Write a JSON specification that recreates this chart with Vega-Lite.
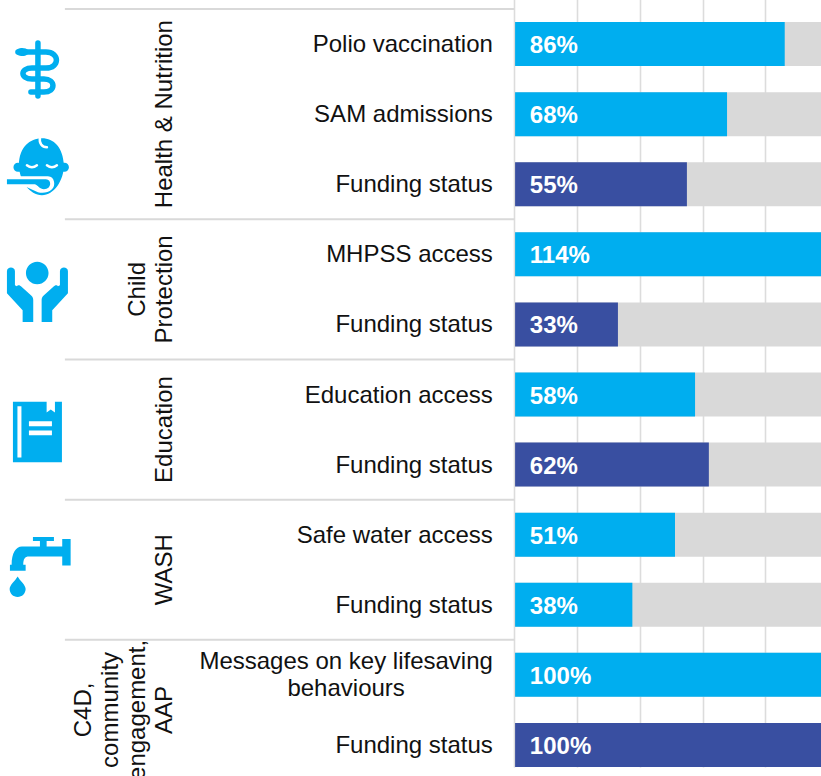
{
"$schema":"https://vega.github.io/schema/vega-lite/v6.json",
"width":821,"height":776,"padding":0,"autosize":{"type":"none"},"background":"white",
"config":{"view":{"stroke":null},"font":"Liberation Sans","axisX":{"grid":true,"gridColor":"#dcdcdc","gridWidth":1.6,"ticks":false,"labels":false,"domain":false,"title":null},"axisY":{"disable":true}},
"datasets":{
"rows":[
{"row":"r0","label":"Polio vaccination","value":86.2,"pct":"86%","series":"indicator","full":100},
{"row":"r1","label":"SAM admissions","value":67.8,"pct":"68%","series":"indicator","full":100},
{"row":"r2","label":"Funding status","value":55,"pct":"55%","series":"funding","full":100},
{"row":"r3","label":"MHPSS access","value":114,"pct":"114%","series":"indicator","full":100},
{"row":"r4","label":"Funding status","value":33,"pct":"33%","series":"funding","full":100},
{"row":"r5","label":"Education access","value":57.6,"pct":"58%","series":"indicator","full":100},
{"row":"r6","label":"Funding status","value":62,"pct":"62%","series":"funding","full":100},
{"row":"r7","label":"Safe water access","value":51.2,"pct":"51%","series":"indicator","full":100},
{"row":"r8","label":"Funding status","value":37.6,"pct":"38%","series":"indicator","full":100},
{"row":"r9","label":"Messages on key lifesaving behaviours","value":100,"pct":"100%","series":"indicator","full":100},
{"row":"r10","label":"Funding status","value":100,"pct":"100%","series":"funding","full":100}
],
"starts":[{"row":"r0"},{"row":"r3"},{"row":"r5"},{"row":"r7"},{"row":"r9"}]
},
"layer":[
{"data":{"name":"rows"},"mark":{"type":"bar","size":44,"color":"#d9d9d9","clip":true},
"encoding":{
"x":{"field":"full","type":"quantitative","axis":{"values":[0,20,40,60,80]},"scale":{"domain":[-164.1,97.77],"nice":false,"zero":false}},
"x2":{"datum":0.2},
"y":{"field":"row","type":"nominal","scale":{"domain":["r0","r1","r2","r3","r4","r5","r6","r7","r8","r9","r10"],"range":[9,780],"paddingInner":0,"paddingOuter":0}}}},
{"data":{"name":"rows"},"mark":{"type":"bar","size":44,"clip":true},
"encoding":{
"x":{"field":"value","type":"quantitative","axis":{"values":[0,20,40,60,80]},"scale":{"domain":[-164.1,97.77],"nice":false,"zero":false}},
"x2":{"datum":0.2},
"y":{"field":"row","type":"nominal","scale":{"domain":["r0","r1","r2","r3","r4","r5","r6","r7","r8","r9","r10"],"range":[9,780],"paddingInner":0,"paddingOuter":0}},
"color":{"field":"series","type":"nominal","legend":null,"scale":{"domain":["indicator","funding"],"range":["#00AEEF","#394FA1"]}}}},
{"data":{"name":"rows"},"mark":{"type":"text","align":"left","baseline":"middle","fontWeight":"bold","fontSize":24,"color":"white","dy":2},
"encoding":{
"x":{"datum":4.9,"type":"quantitative","axis":{"values":[0,20,40,60,80]},"scale":{"domain":[-164.1,97.77],"nice":false,"zero":false}},
"y":{"field":"row","type":"nominal","scale":{"domain":["r0","r1","r2","r3","r4","r5","r6","r7","r8","r9","r10"],"range":[9,780],"paddingInner":0,"paddingOuter":0}},
"text":{"field":"pct"}}},
{"data":{"name":"rows"},"transform":[{"filter":"datum.row !== 'r9'"}],"mark":{"type":"text","align":"right","baseline":"middle","fontSize":24,"color":"#111111","dy":1},
"encoding":{
"x":{"datum":-6.9,"type":"quantitative","axis":{"values":[0,20,40,60,80]},"scale":{"domain":[-164.1,97.77],"nice":false,"zero":false}},
"y":{"field":"row","type":"nominal","scale":{"domain":["r0","r1","r2","r3","r4","r5","r6","r7","r8","r9","r10"],"range":[9,780],"paddingInner":0,"paddingOuter":0}},
"text":{"field":"label"}}},
{"data":{"values":[{"row":"r9","label":["Messages on key lifesaving","behaviours"]}]},"mark":{"type":"text","align":"center","baseline":"middle","fontSize":24,"lineHeight":27,"color":"#111111"},
"encoding":{
"x":{"datum":-53.7,"type":"quantitative","axis":{"values":[0,20,40,60,80]},"scale":{"domain":[-164.1,97.77],"nice":false,"zero":false}},
"y":{"field":"row","type":"nominal","bandPosition":0.31,"scale":{"domain":["r0","r1","r2","r3","r4","r5","r6","r7","r8","r9","r10"],"range":[9,780],"paddingInner":0,"paddingOuter":0}},
"text":{"field":"label"}}},
{"data":{"name":"starts"},"mark":{"type":"rule","color":"#d9d9d9","strokeWidth":2},
"encoding":{
"x":{"datum":-143.4,"type":"quantitative","axis":{"values":[0,20,40,60,80]},"scale":{"domain":[-164.1,97.77],"nice":false,"zero":false}},
"x2":{"datum":0},
"y":{"field":"row","type":"nominal","bandPosition":0,"scale":{"domain":["r0","r1","r2","r3","r4","r5","r6","r7","r8","r9","r10"],"range":[9,780],"paddingInner":0,"paddingOuter":0}}}},
{"data":{"values":[{"row":"r1","group":"Health & Nutrition"}]},"mark":{"type":"text","angle":270,"align":"center","baseline":"bottom","fontSize":24,"lineHeight":27,"color":"#111111"},
"encoding":{
"x":{"datum":-107.7,"type":"quantitative","axis":{"values":[0,20,40,60,80]},"scale":{"domain":[-164.1,97.77],"nice":false,"zero":false}},
"y":{"field":"row","type":"nominal","scale":{"domain":["r0","r1","r2","r3","r4","r5","r6","r7","r8","r9","r10"],"range":[9,780],"paddingInner":0,"paddingOuter":0}},
"text":{"field":"group"}}},
{"data":{"values":[{"row":"r5","group":"Education"},{"row":"r7","group":"WASH"}]},"mark":{"type":"text","angle":270,"align":"center","baseline":"bottom","fontSize":24,"lineHeight":27,"color":"#111111"},
"encoding":{
"x":{"datum":-107.7,"type":"quantitative","axis":{"values":[0,20,40,60,80]},"scale":{"domain":[-164.1,97.77],"nice":false,"zero":false}},
"y":{"field":"row","type":"nominal","bandPosition":1,"scale":{"domain":["r0","r1","r2","r3","r4","r5","r6","r7","r8","r9","r10"],"range":[9,780],"paddingInner":0,"paddingOuter":0}},
"text":{"field":"group"}}},
{"data":{"values":[{"row":"r3","group":["Child","Protection"]}]},"mark":{"type":"text","angle":270,"align":"center","baseline":"bottom","fontSize":24,"lineHeight":27,"color":"#111111"},
"encoding":{
"x":{"datum":-116.3,"type":"quantitative","axis":{"values":[0,20,40,60,80]},"scale":{"domain":[-164.1,97.77],"nice":false,"zero":false}},
"y":{"field":"row","type":"nominal","bandPosition":1,"scale":{"domain":["r0","r1","r2","r3","r4","r5","r6","r7","r8","r9","r10"],"range":[9,780],"paddingInner":0,"paddingOuter":0}},
"text":{"field":"group"}}},
{"data":{"values":[{"row":"r9","group":["C4D,","community","engagement,","AAP"]}]},"mark":{"type":"text","angle":270,"align":"center","baseline":"bottom","fontSize":24,"lineHeight":27,"color":"#111111"},
"encoding":{
"x":{"datum":-133.5,"type":"quantitative","axis":{"values":[0,20,40,60,80]},"scale":{"domain":[-164.1,97.77],"nice":false,"zero":false}},
"y":{"field":"row","type":"nominal","bandPosition":1,"scale":{"domain":["r0","r1","r2","r3","r4","r5","r6","r7","r8","r9","r10"],"range":[9,780],"paddingInner":0,"paddingOuter":0}},
"text":{"field":"group"}}},
{"data":{"values":[{"row":"r0"}]},"mark":{"type":"point","filled":false,"size":4,"opacity":1,"stroke":"#00AEEF","strokeWidth":5.5,"strokeCap":"round","strokeJoin":"round","shape":"M0,-1 L0,52 M-20,8 L8,8 C22,8 22,24 8,24 L-6,24 C-18,24 -18,35 -6,35 L6,35 C18,35 18,48 6,48 L-7,48"},
"encoding":{
"x":{"datum":-152,"type":"quantitative","axis":{"values":[0,20,40,60,80]},"scale":{"domain":[-164.1,97.77],"nice":false,"zero":false}},
"y":{"field":"row","type":"nominal","scale":{"domain":["r0","r1","r2","r3","r4","r5","r6","r7","r8","r9","r10"],"range":[9,780],"paddingInner":0,"paddingOuter":0}}}},
{"data":{"values":[{"row":"r0"}]},"mark":{"type":"point","filled":true,"size":4,"opacity":1,"color":"#00AEEF","shape":"M-22,8 C-22,3 -12,3 -10,6 L-10,10 C-12,13 -22,13 -22,8 Z"},
"encoding":{
"x":{"datum":-152,"type":"quantitative","axis":{"values":[0,20,40,60,80]},"scale":{"domain":[-164.1,97.77],"nice":false,"zero":false}},
"y":{"field":"row","type":"nominal","scale":{"domain":["r0","r1","r2","r3","r4","r5","r6","r7","r8","r9","r10"],"range":[9,780],"paddingInner":0,"paddingOuter":0}}}},
{"data":{"values":[{"row":"r2"}]},"mark":{"type":"point","filled":true,"size":4,"opacity":1,"color":"#00AEEF","shape":"M-19,-19 C-19,-37 -8,-46 4,-46 C16,-46 25,-37 26,-19 C26,-4 16,11 4,11 C-8,11 -19,-4 -19,-19 Z M-24.5,-17 A4.5,4.5 0 1 1 -15.5,-17 A4.5,4.5 0 1 1 -24.5,-17 Z M22,-17 A4.5,4.5 0 1 1 31,-17 A4.5,4.5 0 1 1 22,-17 Z"},
"encoding":{
"x":{"datum":-152,"type":"quantitative","axis":{"values":[0,20,40,60,80]},"scale":{"domain":[-164.1,97.77],"nice":false,"zero":false}},
"y":{"field":"row","type":"nominal","scale":{"domain":["r0","r1","r2","r3","r4","r5","r6","r7","r8","r9","r10"],"range":[9,780],"paddingInner":0,"paddingOuter":0}}}},
{"data":{"values":[{"row":"r2"}]},"mark":{"type":"point","filled":true,"size":4,"opacity":1,"color":"white","shape":"M-22,-8 L10,-8 C17,-8 18,2 14,5 C10,9 4,9 0,8 L-11,3 L-22,3 Z"},
"encoding":{
"x":{"datum":-152,"type":"quantitative","axis":{"values":[0,20,40,60,80]},"scale":{"domain":[-164.1,97.77],"nice":false,"zero":false}},
"y":{"field":"row","type":"nominal","scale":{"domain":["r0","r1","r2","r3","r4","r5","r6","r7","r8","r9","r10"],"range":[9,780],"paddingInner":0,"paddingOuter":0}}}},
{"data":{"values":[{"row":"r2"}]},"mark":{"type":"point","filled":true,"size":4,"opacity":1,"color":"#00AEEF","shape":"M-31,-5 L8,-5 C14,-5 14,5 6,5 C2,5 0,1 -3,0 L-31,0 Z"},
"encoding":{
"x":{"datum":-152,"type":"quantitative","axis":{"values":[0,20,40,60,80]},"scale":{"domain":[-164.1,97.77],"nice":false,"zero":false}},
"y":{"field":"row","type":"nominal","scale":{"domain":["r0","r1","r2","r3","r4","r5","r6","r7","r8","r9","r10"],"range":[9,780],"paddingInner":0,"paddingOuter":0}}}},
{"data":{"values":[{"row":"r2"}]},"mark":{"type":"point","filled":false,"size":4,"opacity":1,"stroke":"white","strokeWidth":2.5,"strokeCap":"round","shape":"M-11,-19 Q-6,-15 -1,-19 M9,-19 Q14,-15 19,-19 M2,-47 C1,-41 4,-37 9,-37"},
"encoding":{
"x":{"datum":-152,"type":"quantitative","axis":{"values":[0,20,40,60,80]},"scale":{"domain":[-164.1,97.77],"nice":false,"zero":false}},
"y":{"field":"row","type":"nominal","scale":{"domain":["r0","r1","r2","r3","r4","r5","r6","r7","r8","r9","r10"],"range":[9,780],"paddingInner":0,"paddingOuter":0}}}},
{"data":{"values":[{"row":"r3"}]},"mark":{"type":"point","filled":true,"size":4,"opacity":1,"color":"#00AEEF","shape":"M-12,18.7 A11.3,11.3 0 1 1 10.6,18.7 A11.3,11.3 0 1 1 -12,18.7 Z M-31,17 C-31,12 -23,12 -23,17 L-23,31 L-21,32 C-20,30 -18,31 -17,32 L-7,41 C-5,43 -4.7,44 -4.7,46 L-4.7,67.7 L-15.3,67.7 L-15.3,56 L-31,39 Z M30,17 C30,12 22,12 22,17 L22,31 L20,32 C19,30 17,31 16,32 L6,41 C4,43 3.7,44 3.7,46 L3.7,67.7 L14.3,67.7 L14.3,56 L30,39 Z"},
"encoding":{
"x":{"datum":-152,"type":"quantitative","axis":{"values":[0,20,40,60,80]},"scale":{"domain":[-164.1,97.77],"nice":false,"zero":false}},
"y":{"field":"row","type":"nominal","scale":{"domain":["r0","r1","r2","r3","r4","r5","r6","r7","r8","r9","r10"],"range":[9,780],"paddingInner":0,"paddingOuter":0}}}},
{"data":{"values":[{"row":"r5"}]},"mark":{"type":"point","filled":true,"size":4,"opacity":1,"color":"#00AEEF","shape":"M-25,7.3 L24,7.3 L24,67.7 L-25,67.7 Z"},
"encoding":{
"x":{"datum":-152,"type":"quantitative","axis":{"values":[0,20,40,60,80]},"scale":{"domain":[-164.1,97.77],"nice":false,"zero":false}},
"y":{"field":"row","type":"nominal","scale":{"domain":["r0","r1","r2","r3","r4","r5","r6","r7","r8","r9","r10"],"range":[9,780],"paddingInner":0,"paddingOuter":0}}}},
{"data":{"values":[{"row":"r5"}]},"mark":{"type":"point","filled":true,"size":4,"opacity":1,"color":"white","shape":"M-20.5,11.7 L-16.5,11.7 L-16.5,63 L-20.5,63 Z M8.7,6 L17,6 L17,18 L12.8,15 L8.7,18 Z M-9,26.7 L14,26.7 L14,31.7 L-9,31.7 Z M-9,36 L14,36 L14,40.7 L-9,40.7 Z"},
"encoding":{
"x":{"datum":-152,"type":"quantitative","axis":{"values":[0,20,40,60,80]},"scale":{"domain":[-164.1,97.77],"nice":false,"zero":false}},
"y":{"field":"row","type":"nominal","scale":{"domain":["r0","r1","r2","r3","r4","r5","r6","r7","r8","r9","r10"],"range":[9,780],"paddingInner":0,"paddingOuter":0}}}},
{"data":{"values":[{"row":"r7"}]},"mark":{"type":"point","filled":true,"size":4,"opacity":1,"color":"#00AEEF","shape":"M-20.3,41.7 C-18,46 -12.3,50 -12.3,54.3 A8,8 0 1 1 -28.3,54.3 C-28.3,50 -22.6,46 -20.3,41.7 Z M-16,11.7 L25,11.7 L25,21.7 L-9,21.7 C-13,21.7 -14.7,24 -14.7,30 L-12.3,30 L-12.3,36 L-28,36 L-28,30 L-26.3,30 C-26.3,18 -22,11.7 -16,11.7 Z M24.3,4.3 L32.7,4.3 L32.7,30.7 L24.3,30.7 Z M2,5 L8.7,5 L8.7,13 L2,13 Z M-5,2.3 L16,2.3 L16,6.3 L-5,6.3 Z"},
"encoding":{
"x":{"datum":-152,"type":"quantitative","axis":{"values":[0,20,40,60,80]},"scale":{"domain":[-164.1,97.77],"nice":false,"zero":false}},
"y":{"field":"row","type":"nominal","scale":{"domain":["r0","r1","r2","r3","r4","r5","r6","r7","r8","r9","r10"],"range":[9,780],"paddingInner":0,"paddingOuter":0}}}}
]
}
